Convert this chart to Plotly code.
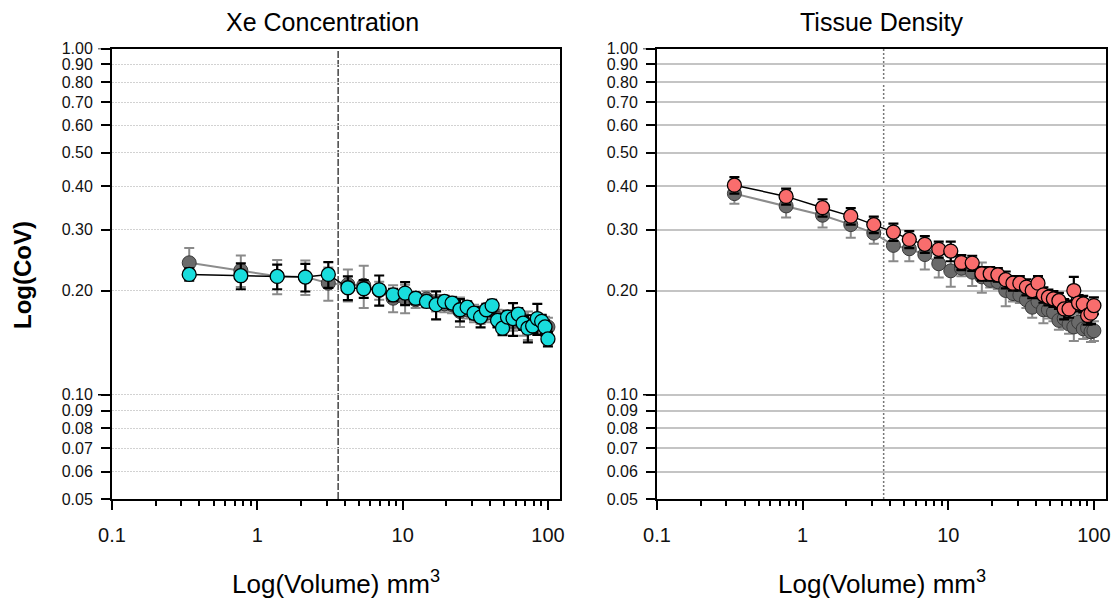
import plotly.graph_objects as go

# ---------------- data ----------------
volume = [0.34, 0.77, 1.37, 2.14, 3.08, 4.2, 5.4, 6.9, 8.6, 10.4, 12.3, 14.6, 17.0, 19.4,
          21.9, 24.8, 27.8, 31.0, 34.4, 37.7, 41.3, 45.0, 48.7, 52.7, 57.5, 62.5, 67.5,
          72.8, 78.5, 84.5, 90.5, 95.5, 100.0]

xe_gray = [0.2405, 0.2286, 0.220, 0.219, 0.210, 0.208, 0.207, 0.200, 0.190, 0.190, 0.188,
           0.189, 0.184, 0.183, 0.182, 0.174, 0.176, 0.172, 0.170, 0.172, 0.175, 0.166,
           0.163, 0.165, 0.163, 0.165, 0.160, 0.159, 0.160, 0.162, 0.160, 0.158, 0.157]
xe_gray_err = [0.025, 0.024, 0.025, 0.025, 0.023, 0.022, 0.029, 0.012, 0.017, 0.018, 0.01,
               0.01, 0.01, 0.01, 0.01, 0.017, 0.01, 0.01, 0.01, 0.01, 0.01, 0.01, 0.01,
               0.01, 0.01, 0.01, 0.012, 0.015, 0.01, 0.01, 0.01, 0.01, 0.01]

xe_cyan = [0.2226, 0.2207, 0.2197, 0.2187, 0.2226, 0.2037, 0.2024, 0.201, 0.1944, 0.1966,
           0.190, 0.186, 0.182, 0.186, 0.184, 0.176, 0.179, 0.172, 0.1676, 0.176, 0.181,
           0.164, 0.1557, 0.1676, 0.166, 0.171, 0.161, 0.1557, 0.158, 0.166, 0.163, 0.157,
           0.145]
xe_cyan_err = [0.009, 0.019, 0.018, 0.02, 0.019, 0.016, 0.012, 0.02, 0.008, 0.015, 0.007,
               0.007, 0.017, 0.007, 0.007, 0.013, 0.007, 0.007, 0.011, 0.007, 0.007, 0.007,
               0.007, 0.007, 0.018, 0.007, 0.007, 0.014, 0.007, 0.017, 0.007, 0.007, 0.007]

td_gray = [0.381, 0.351, 0.330, 0.310, 0.293, 0.270, 0.264, 0.254, 0.239, 0.228, 0.232,
           0.226, 0.219, 0.214, 0.212, 0.200, 0.196, 0.194, 0.188, 0.179, 0.186, 0.176,
           0.176, 0.173, 0.164, 0.166, 0.160, 0.157, 0.162, 0.155, 0.156, 0.152, 0.153]
td_gray_err = [0.025, 0.026, 0.026, 0.026, 0.02, 0.027, 0.021, 0.024, 0.021, 0.023, 0.012,
               0.02, 0.022, 0.01, 0.01, 0.02, 0.01, 0.01, 0.01, 0.012, 0.01, 0.015, 0.01,
               0.01, 0.01, 0.01, 0.01, 0.014, 0.01, 0.01, 0.01, 0.01, 0.01]

td_red = [0.403, 0.374, 0.347, 0.328, 0.310, 0.295, 0.281, 0.272, 0.263, 0.260, 0.241,
          0.240, 0.2236, 0.2236, 0.222, 0.215, 0.210, 0.210, 0.2046, 0.200, 0.210, 0.1944,
          0.1913, 0.1893, 0.187, 0.177, 0.177, 0.200, 0.184, 0.183, 0.1694, 0.172, 0.181]
td_red_err = [0.022, 0.02, 0.02, 0.018, 0.017, 0.017, 0.016, 0.015, 0.014, 0.017, 0.012,
              0.012, 0.01, 0.01, 0.01, 0.012, 0.01, 0.01, 0.011, 0.01, 0.01, 0.01, 0.01,
              0.01, 0.01, 0.012, 0.01, 0.019, 0.01, 0.01, 0.01, 0.012, 0.01]

threshold_volume = 3.6

y_ticks = [0.05, 0.06, 0.07, 0.08, 0.09, 0.10, 0.20, 0.30, 0.40, 0.50, 0.60, 0.70, 0.80, 0.90, 1.00]
y_tick_labels = ["%.2f" % v for v in y_ticks]
x_ticks = [0.1, 1, 10, 100]
x_tick_labels = ["0.1", "1", "10", "100"]
x_minor = [m * d for d in (0.1, 1, 10) for m in range(2, 10)]

titles = ["Xe Concentration", "Tissue Density"]
x_title = "Log(Volume) mm<sup>3</sup>"
y_title = "Log(CoV)"

# ---------------- layout geometry ----------------
W, H = 1118, 605
FONT = "Liberation Sans, Arial, sans-serif"
left_px = [(112, 560), (657, 1106)]
top_px, bottom_px = 48.5, 499


def px_x(p):
    return p / W


def px_y(p):
    return 1 - p / H


fig = go.Figure()

gray_fill = "#6a6a6a"
gray_line = "#8c8c8c"

series = [
    (xe_gray, xe_gray_err, xe_cyan, xe_cyan_err, "#19dcdc", "x", "y"),
    (td_gray, td_gray_err, td_red, td_red_err, "#f96d6d", "x2", "y2"),
]

for g, ge, c, ce, col, xa, ya in series:
    fig.add_trace(go.Scatter(
        x=volume, y=g, mode="lines+markers", xaxis=xa, yaxis=ya,
        line=dict(color=gray_line, width=2),
        marker=dict(size=14, color=gray_fill, line=dict(color="#3a3a3a", width=1)),
        error_y=dict(type="data", array=ge, visible=True, color="#8a8a8a",
                     thickness=2, width=5),
        showlegend=False, cliponaxis=False))
    fig.add_trace(go.Scatter(
        x=volume, y=c, mode="lines+markers", xaxis=xa, yaxis=ya,
        line=dict(color="black", width=1.5),
        marker=dict(size=14, color=col, line=dict(color="black", width=1.3)),
        error_y=dict(type="data", array=ce, visible=True, color="black",
                     thickness=2.2, width=5),
        showlegend=False, cliponaxis=False))

grid_dash = ["2px,1px", "solid"]
grid_col = ["#d2d2d2", "#c4c4c4"]
grid_w = [1, 1.5]

for i, (xl, xr) in enumerate(left_px):
    sfx = "" if i == 0 else "2"
    fig.layout["xaxis" + sfx] = dict(
        type="log", range=[-1, 2.083], domain=[px_x(xl), px_x(xr)],
        anchor="y" + sfx, tickmode="array", tickvals=x_ticks, ticktext=x_tick_labels,
        ticks="outside", ticklen=9, tickwidth=1.5, tickcolor="black",
        minor=dict(tickvals=x_minor, ticks="outside", ticklen=5, tickwidth=1.5,
                   tickcolor="black", showgrid=False),
        showgrid=False, zeroline=False, showline=True, mirror=True,
        linecolor="black", linewidth=2,
        tickfont=dict(family=FONT, size=20, color="#111"), ticklabelstandoff=8,
        automargin=False)
    fig.layout["yaxis" + sfx] = dict(
        type="log", range=[-1.30103, 0], domain=[px_y(bottom_px), px_y(top_px)],
        anchor="x" + sfx, tickmode="array", tickvals=y_ticks, ticktext=y_tick_labels,
        ticks="outside", ticklen=9, tickwidth=1.5, tickcolor="black",
        showgrid=True, gridcolor=grid_col[i], griddash=grid_dash[i], gridwidth=grid_w[i],
        zeroline=False, showline=True, mirror=True, linecolor="black", linewidth=2,
        tickfont=dict(family=FONT, size=16, color="#111"), ticklabelstandoff=5,
        automargin=False)
    # longer major ticks at 0.1 and 1.0
    for yv in (0.1, 1.0):
        fig.add_shape(type="line", xref="x%s domain" % sfx, yref="y" + sfx,
                      x0=-14 / (xr - xl), x1=0, y0=yv, y1=yv,
                      line=dict(color="black", width=1.5))
    # threshold line
    fig.add_shape(type="line", xref="x" + sfx, yref="y%s domain" % sfx,
                  x0=threshold_volume, x1=threshold_volume, y0=0, y1=1,
                  line=dict(color="#444" if i == 0 else "#777",
                            dash="7px,2px" if i == 0 else "2px,2px", width=1.5),
                  layer="below")
    # titles
    fig.add_annotation(text=titles[i], x=px_x(322 if i == 0 else 882), y=px_y(22),
                       xref="paper", yref="paper", showarrow=False,
                       font=dict(family=FONT, size=25, color="black"),
                       xanchor="center", yanchor="middle")
    fig.add_annotation(text=x_title, x=px_x((xl + xr) / 2), y=px_y(582),
                       xref="paper", yref="paper", showarrow=False,
                       font=dict(family=FONT, size=26, color="black"),
                       xanchor="center", yanchor="middle")

fig.add_annotation(text="<b>%s</b>" % y_title, x=px_x(22), y=px_y(275), xref="paper",
                   yref="paper", showarrow=False, textangle=-90,
                   font=dict(family=FONT, size=24, color="black"),
                   xanchor="center", yanchor="middle")

fig.update_layout(width=W, height=H, margin=dict(l=0, r=0, t=0, b=0),
                  paper_bgcolor="white", plot_bgcolor="white", showlegend=False)

fig.write_html("out.html")
